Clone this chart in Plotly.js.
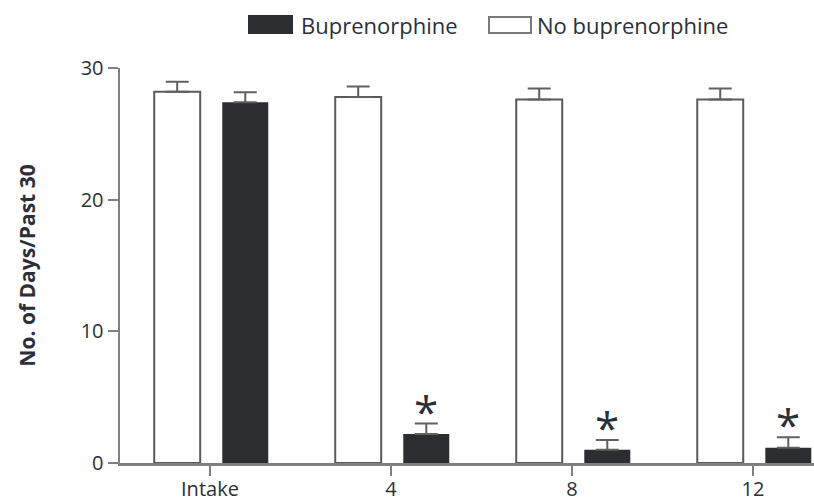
<!DOCTYPE html>
<html>
<head>
<meta charset="utf-8">
<script src="https://cdn.plot.ly/plotly-3.0.1.min.js"></script>
<style>html,body{margin:0;padding:0;background:#fff;}#chart{width:814px;height:501px;}</style>
</head>
<body>
<div id="chart"></div>
<script>
// ---- data ----
var categories = ['Intake', '4', '8', '12'];
var noBupValues = [28.2, 27.8, 27.6, 27.6];
var noBupErr = [0.75, 0.8, 0.85, 0.85];
var bupValues = [27.4, 2.2, 1.0, 1.15];
var bupErr = [0.75, 0.8, 0.75, 0.8];
var significant = [false, true, true, true];
var yTicks = [0, 10, 20, 30];
var seriesNames = ['Buprenorphine', 'No buprenorphine'];

// ---- layout constants ----
var W = 814, H = 501;
var M = {l: 120, r: 0, t: 68, b: 38};
var plotW = W - M.l - M.r, plotH = H - M.t - M.b;
function px(x) { return (x - M.l) / plotW; }
function py(y) { return (H - M.b - y) / plotH; }

var barW = 0.254;
var whiteOffset = -0.308;
var blackOffset = 0.068;
var textColor = '#2b2f38';
var lineGray = '#808080';
var fontFam = 'Open Sans, sans-serif';

var zeros = categories.map(function () { return 0; });

var traceNo = {
  type: 'bar', name: seriesNames[1], x: categories, y: noBupValues,
  width: barW, offset: whiteOffset,
  marker: {color: '#ffffff', line: {color: '#5a5a5a', width: 2}},
  error_y: {type: 'data', symmetric: false, array: noBupErr, arrayminus: zeros,
            color: '#606060', thickness: 2, width: 11.5},
  showlegend: false, hoverinfo: 'none'
};
var traceBup = {
  type: 'bar', name: seriesNames[0], x: categories, y: bupValues,
  width: barW, offset: blackOffset,
  marker: {color: '#2b2d31', line: {color: '#2b2d31', width: 0}},
  error_y: {type: 'data', symmetric: false, array: bupErr, arrayminus: zeros,
            color: '#606060', thickness: 2, width: 11.5},
  showlegend: false, hoverinfo: 'none'
};

var annotations = [];
categories.forEach(function (c, i) {
  if (significant[i]) {
    annotations.push({
      x: i + blackOffset + barW / 2, xref: 'x',
      y: bupValues[i] + bupErr[i], yref: 'y',
      text: '*', showarrow: false,
      xanchor: 'center', yanchor: 'middle', yshift: 13,
      font: {family: fontFam, size: 44, color: textColor}
    });
  }
});
// legend texts
annotations.push({
  xref: 'paper', yref: 'paper', x: px(299), y: py(25),
  xanchor: 'left', yanchor: 'middle', showarrow: false,
  text: seriesNames[0], font: {family: fontFam, size: 22, color: textColor}
});
annotations.push({
  xref: 'paper', yref: 'paper', x: px(535), y: py(25),
  xanchor: 'left', yanchor: 'middle', showarrow: false,
  text: seriesNames[1], font: {family: fontFam, size: 22, color: textColor}
});

var shapes = [
  {type: 'rect', xref: 'paper', yref: 'paper', x0: px(248), x1: px(293), y0: py(34), y1: py(15),
   fillcolor: '#2b2d31', line: {width: 0}},
  {type: 'rect', xref: 'paper', yref: 'paper', x0: px(489), x1: px(531), y0: py(33), y1: py(17),
   fillcolor: '#ffffff', line: {color: '#7a7a7a', width: 2}}
];

var layout = {
  width: W, height: H,
  margin: M,
  paper_bgcolor: '#ffffff', plot_bgcolor: '#ffffff',
  barmode: 'overlay',
  showlegend: false,
  font: {family: fontFam, color: textColor},
  xaxis: {
    type: 'category', range: [-0.497, 3.337],
    showline: true, linecolor: lineGray, linewidth: 2.5,
    ticks: 'outside', ticklen: 10, tickwidth: 2, tickcolor: lineGray,
    ticklabelstandoff: -4,
    tickfont: {family: fontFam, size: 20, color: textColor},
    showgrid: false, zeroline: false, fixedrange: true
  },
  yaxis: {
    range: [0, 30], tickvals: yTicks, ticktext: yTicks.map(String),
    showline: true, linecolor: lineGray, linewidth: 2.5,
    ticks: 'outside', ticklen: 10, tickwidth: 2, tickcolor: lineGray,
    tickfont: {family: fontFam, size: 20, color: textColor},
    showgrid: false, zeroline: false, fixedrange: true,
    title: {text: 'No. of Days/Past 30', standoff: 40,
            font: {family: fontFam, size: 21, weight: 700, color: textColor}}
  },
  shapes: shapes,
  annotations: annotations
};

Plotly.newPlot('chart', [traceNo, traceBup], layout, {displayModeBar: false, staticPlot: true});
</script>
</body>
</html>
